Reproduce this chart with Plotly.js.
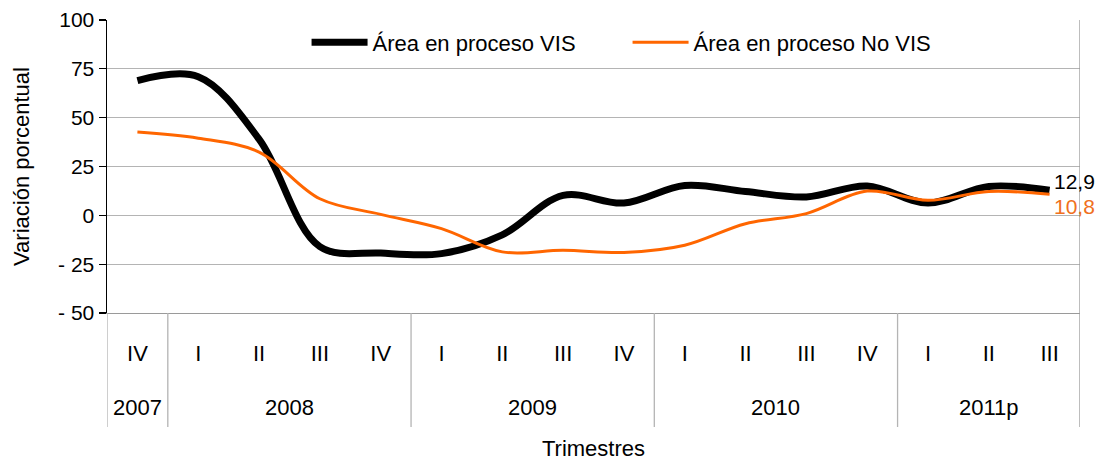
<!DOCTYPE html>
<html>
<head>
<meta charset="utf-8">
<script src="https://cdn.plot.ly/plotly-3.0.1.min.js"></script>
<style>
  html, body { margin: 0; padding: 0; background: #ffffff; }
  #chart { width: 1103px; height: 461px; }
</style>
</head>
<body>
<div id="chart"></div>
<script>
// ---- Data ----
const quarters = ["IV","I","II","III","IV","I","II","III","IV","I","II","III","IV","I","II","III"];
const years    = ["2007","2008","2008","2008","2008","2009","2009","2009","2009","2010","2010","2010","2010","2011p","2011p","2011p"];
const visValues   = [69, 71, 39, -16, -19.3, -19.6, -10, 10.2, 6.3, 15.3, 12.2, 9.4, 15, 6.3, 14.8, 12.9];
const noVisValues = [42.6, 39.5, 32.4, 8.5, 0.5, -6.8, -18.7, -17.9, -19, -15.3, -4.3, 0.9, 12.4, 7.7, 12.2, 10.8];
const seriesNames = ["Área en proceso VIS", "Área en proceso No VIS"];
const endLabels = ["12,9", "10,8"];
const yTickVals = [-50, -25, 0, 25, 50, 75, 100];
const yTickText = ["- 50", "- 25", "0", "25", "50", "75", "100"];

// ---- Derived ----
const keys = quarters.map((q, i) => q + " " + years[i]);
const FONT = "Liberation Sans, Arial, sans-serif";
const GRID = "#b4b4b4";
const BLACK = "#000000";
const ORANGE = "#ff6600";

// Year groups (start/end index)
const groups = [];
years.forEach((y, i) => {
  if (!groups.length || groups[groups.length - 1].year !== y) groups.push({year: y, start: i, end: i});
  else groups[groups.length - 1].end = i;
});

const BOTTOM = -0.389; // paper y of bottom of label box

const shapes = [];
groups.forEach((g) => {
  shapes.push({type: "line", xref: "x", yref: "paper", x0: g.start - 0.5, x1: g.start - 0.5,
    y0: BOTTOM, y1: 0, line: {color: GRID, width: 1.3}});
});
// right edge of plot + label box
shapes.push({type: "line", xref: "x", yref: "paper", x0: keys.length - 0.5, x1: keys.length - 0.5,
  y0: BOTTOM, y1: 1, line: {color: "#9a9a9a", width: 1.3}});

const annotations = groups.map(g => ({
  xref: "x", yref: "paper", x: (g.start + g.end) / 2, y: -0.324,
  text: g.year, showarrow: false, xanchor: "center", yanchor: "middle",
  font: {family: FONT, size: 22, color: "#000"}
}));
const last = keys.length - 1;
annotations.push({xref: "x", yref: "y", x: last, y: visValues[last], text: endLabels[0],
  showarrow: false, xanchor: "left", yanchor: "middle", xshift: 2, yshift: 9,
  font: {family: FONT, size: 21, color: BLACK}});
annotations.push({xref: "x", yref: "y", x: last, y: noVisValues[last], text: endLabels[1],
  showarrow: false, xanchor: "left", yanchor: "middle", xshift: 2, yshift: -12,
  font: {family: FONT, size: 21, color: "#f07020"}});

const traces = [
  {x: keys, y: visValues, type: "scatter", mode: "lines", name: seriesNames[0],
   line: {color: BLACK, width: 7, shape: "spline", smoothing: 1}},
  {x: keys, y: noVisValues, type: "scatter", mode: "lines", name: seriesNames[1],
   line: {color: ORANGE, width: 3, shape: "spline", smoothing: 1}}
];

const layout = {
  width: 1103, height: 461,
  margin: {l: 107, r: 23, t: 20, b: 148},
  paper_bgcolor: "#ffffff", plot_bgcolor: "#ffffff",
  font: {family: FONT, size: 20, color: "#000"},
  showlegend: true,
  legend: {orientation: "h", x: 0.535, xanchor: "center", y: 0.995, yanchor: "top",
    bgcolor: "#ffffff", borderwidth: 0, font: {family: FONT, size: 22, color: "#000"},
    itemwidth: 56, entrywidth: 250, entrywidthmode: "pixels", tracegroupgap: 0},
  xaxis: {
    type: "category", range: [-0.5, keys.length - 0.5], tickvals: keys, ticktext: quarters,
    showgrid: false, zeroline: false, showline: true, linecolor: "#9a9a9a", linewidth: 1.3,
    ticks: "", ticklabelstandoff: 20, tickfont: {family: FONT, size: 22, color: "#000"},
    title: {text: "Trimestres", font: {family: FONT, size: 22, color: "#000"}, standoff: 84},
    automargin: false, fixedrange: true
  },
  yaxis: {
    range: [-50, 100], tickvals: yTickVals, ticktext: yTickText,
    showgrid: true, gridcolor: GRID, gridwidth: 1.3, zeroline: false,
    showline: true, linecolor: BLACK, linewidth: 1.5,
    ticks: "outside", ticklen: 7, tickcolor: BLACK, tickwidth: 1.3,
    tickfont: {family: FONT, size: 21, color: "#000"},
    title: {text: "Variación porcentual", font: {family: FONT, size: 22, color: "#000"}, standoff: 22},
    automargin: false, fixedrange: true
  },
  shapes: shapes,
  annotations: annotations
};

Plotly.newPlot("chart", traces, layout, {staticPlot: true, displayModeBar: false});
</script>
</body>
</html>
